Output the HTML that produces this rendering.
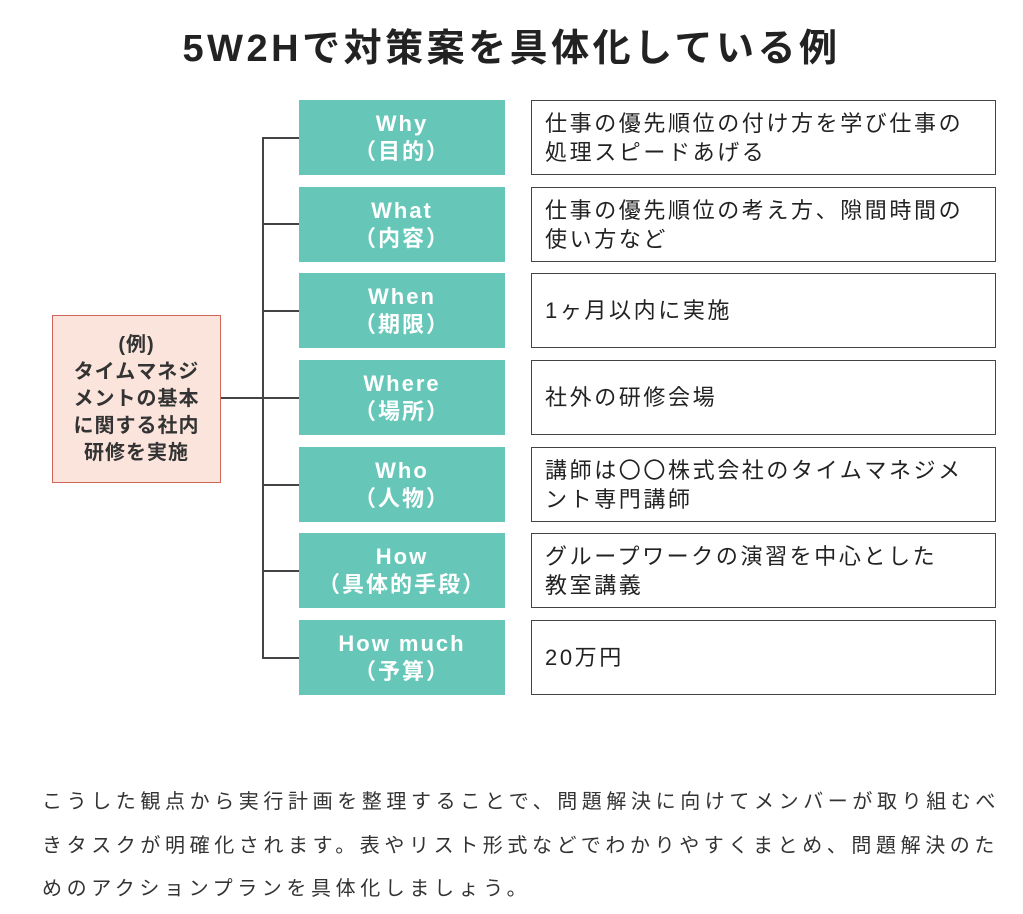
<!DOCTYPE html>
<html><head><meta charset="utf-8"><style>
body{margin:0;width:1023px;height:914px;background:#fff;position:relative;font-family:"Liberation Sans","Noto Sans CJK JP",sans-serif;color:#333;overflow:hidden}
.a{position:absolute;box-sizing:border-box}
.t{background:#66c7b9;color:#fff;font-weight:bold;font-size:22px;line-height:28px;text-align:center;display:flex;flex-direction:column;justify-content:center;letter-spacing:2px;left:299px;width:206px;height:75px}
.r{border:1.5px solid #444;left:531px;width:465px;height:75px;font-size:22px;line-height:29px;padding:0 13px;display:flex;align-items:center;letter-spacing:2.6px;color:#222}
.h{background:#444;position:absolute}
</style></head><body>
<div class="a" style="left:0;width:1023px;top:17px;text-align:center;font-size:38px;font-weight:bold;letter-spacing:3.5px;color:#222">5W2Hで対策案を具体化している例</div>
<div class="a" style="left:52px;top:315px;width:169px;height:168px;background:#fae4dc;border:1.5px solid #d0665a;font-size:20px;font-weight:bold;line-height:27px;text-align:center;display:flex;align-items:center;justify-content:center;color:#333;letter-spacing:1px">(例)<br>タイムマネジ<br>メントの基本<br>に関する社内<br>研修を実施</div>
<div class="h" style="left:221px;top:397px;width:42px;height:2px"></div>
<div class="h" style="left:262px;top:137px;width:2px;height:522px"></div>
<div class="h" style="left:262px;top:137px;width:37px;height:2px"></div>
<div class="h" style="left:262px;top:223px;width:37px;height:2px"></div>
<div class="h" style="left:262px;top:310px;width:37px;height:2px"></div>
<div class="h" style="left:262px;top:397px;width:37px;height:2px"></div>
<div class="h" style="left:262px;top:484px;width:37px;height:2px"></div>
<div class="h" style="left:262px;top:570px;width:37px;height:2px"></div>
<div class="h" style="left:262px;top:657px;width:37px;height:2px"></div>
<div class="a t" style="top:100px">Why<span>（目的）</span></div>
<div class="a t" style="top:187px">What<span>（内容）</span></div>
<div class="a t" style="top:273px">When<span>（期限）</span></div>
<div class="a t" style="top:360px">Where<span>（場所）</span></div>
<div class="a t" style="top:447px">Who<span>（人物）</span></div>
<div class="a t" style="top:533px">How<span>（具体的手段）</span></div>
<div class="a t" style="top:620px">How much<span>（予算）</span></div>
<div class="a r" style="top:100px">仕事の優先順位の付け方を学び仕事の<br>処理スピードあげる</div>
<div class="a r" style="top:187px">仕事の優先順位の考え方、隙間時間の<br>使い方など</div>
<div class="a r" style="top:273px">1ヶ月以内に実施</div>
<div class="a r" style="top:360px">社外の研修会場</div>
<div class="a r" style="top:447px">講師は〇〇株式会社のタイムマネジメ<br>ント専門講師</div>
<div class="a r" style="top:533px">グループワークの演習を中心とした<br>教室講義</div>
<div class="a r" style="top:620px">20万円</div>
<div class="a" style="left:42px;top:781px;width:990px;font-size:20px;line-height:43.5px;letter-spacing:4.6px;color:#333;white-space:nowrap">こうした観点から実行計画を整理することで、問題解決に向けてメンバーが取り組むべ<br>きタスクが明確化されます。表やリスト形式などでわかりやすくまとめ、問題解決のた<br>めのアクションプランを具体化しましょう。</div>
</body></html>
